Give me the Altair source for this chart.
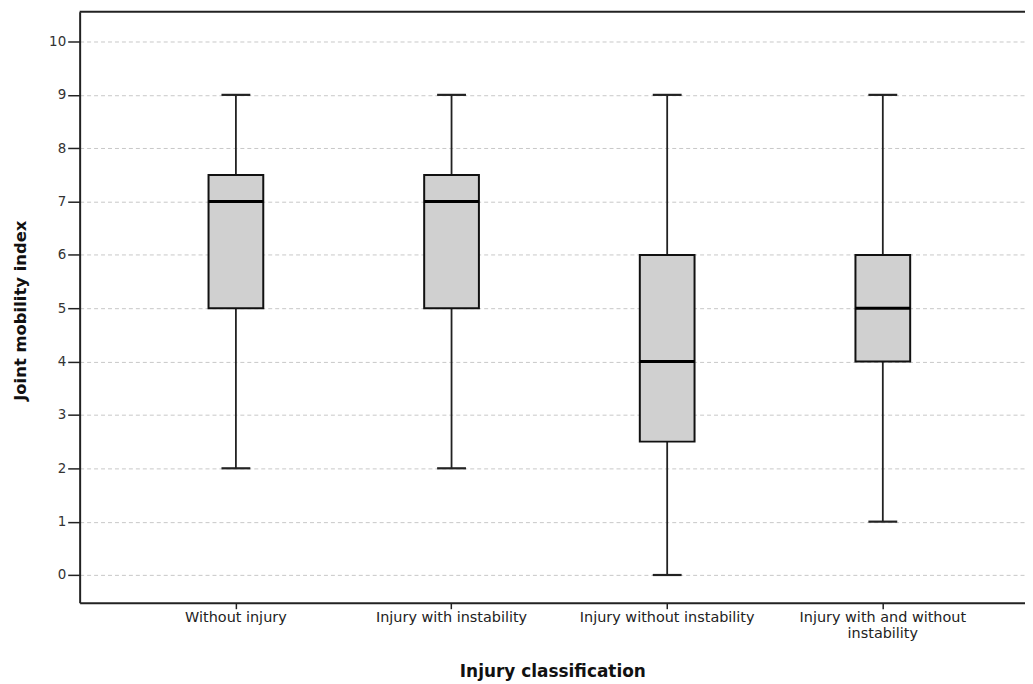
import altair as alt
import pandas as pd

categories = ["Without injury", "Injury with instability",
              "Injury without instability", "Injury with and without instability"]
lower = [2, 2, 0, 1]
q1 = [5, 5, 2.5, 4]
median = [7, 7, 4, 5]
q3 = [7.5, 7.5, 6, 6]
upper = [9, 9, 9, 9]

df = pd.DataFrame({"cat": categories, "lower": lower, "q1": q1,
                   "median": median, "q3": q3, "upper": upper})

xscale = alt.Scale(domain=categories, paddingInner=0, paddingOuter=0.192, align=0.585)
yscale = alt.Scale(domain=[-0.52, 10.56], nice=False, zero=False)

label_expr = ("datum.value == 'Injury with and without instability' ? "
              "['Injury with and without', 'instability'] : datum.value")

FONT = "DejaVu Sans"

x_enc = alt.X("cat:N", scale=xscale, sort=categories,
              axis=alt.Axis(title="Injury classification", labelAngle=0,
                            labelExpr=label_expr, labelFontSize=14.5,
                            labelColor="#222222", labelFont=FONT,
                            labelLineHeight=16, labelPadding=2,
                            tickSize=6, tickColor="#222222", tickWidth=1.5,
                            domainColor="#222222", domainWidth=2,
                            titleFont=FONT, titleFontSize=17,
                            titleFontWeight="bold", titleColor="#111111",
                            titleY=69, titleBaseline="middle", grid=False))

y_axis = alt.Axis(title="Joint mobility index", values=list(range(0, 11)),
                  labelFontSize=13.5, labelColor="#333333", labelFont=FONT,
                  labelPadding=2, tickSize=12, tickColor="#222222", tickWidth=1.5,
                  domainColor="#222222", domainWidth=2,
                  grid=True, gridColor="#c8c8c8", gridDash=[4, 3], gridWidth=1,
                  titleFont=FONT, titleFontSize=16.5,
                  titleFontWeight="bold", titleColor="#111111",
                  titleX=-59, titleY=300, titleBaseline="middle")

base = alt.Chart(df)

whisker = base.mark_rule(color="#222222", strokeWidth=1.8).encode(
    x=x_enc,
    y=alt.Y("lower:Q", scale=yscale, axis=y_axis),
    y2="upper:Q")

box = base.mark_bar(size=55, fill="#d0d0d0", stroke="#111111", strokeWidth=2).encode(
    x=x_enc, y=alt.Y("q1:Q", scale=yscale), y2="q3:Q")

med = base.mark_tick(size=55, thickness=3, color="#000000", opacity=1).encode(
    x=x_enc, y=alt.Y("median:Q", scale=yscale))

cap_lo = base.mark_tick(size=29, thickness=2.2, color="#222222", opacity=1).encode(
    x=x_enc, y=alt.Y("lower:Q", scale=yscale))
cap_hi = base.mark_tick(size=29, thickness=2.2, color="#222222", opacity=1).encode(
    x=x_enc, y=alt.Y("upper:Q", scale=yscale))

top_border = alt.Chart(pd.DataFrame({"a": [0]})).mark_rule(
    color="#222222", strokeWidth=2).encode(y=alt.value(0))

chart = alt.layer(whisker, box, med, cap_lo, cap_hi, top_border).properties(
    width=950, height=594,
    autosize=alt.AutoSizeParams(type="none"),
    padding={"left": 72, "top": 2, "right": 0, "bottom": 80},
    background="white",
).configure_view(stroke=None)

chart.save("out.html", embed_options={"renderer": "svg", "actions": False})
